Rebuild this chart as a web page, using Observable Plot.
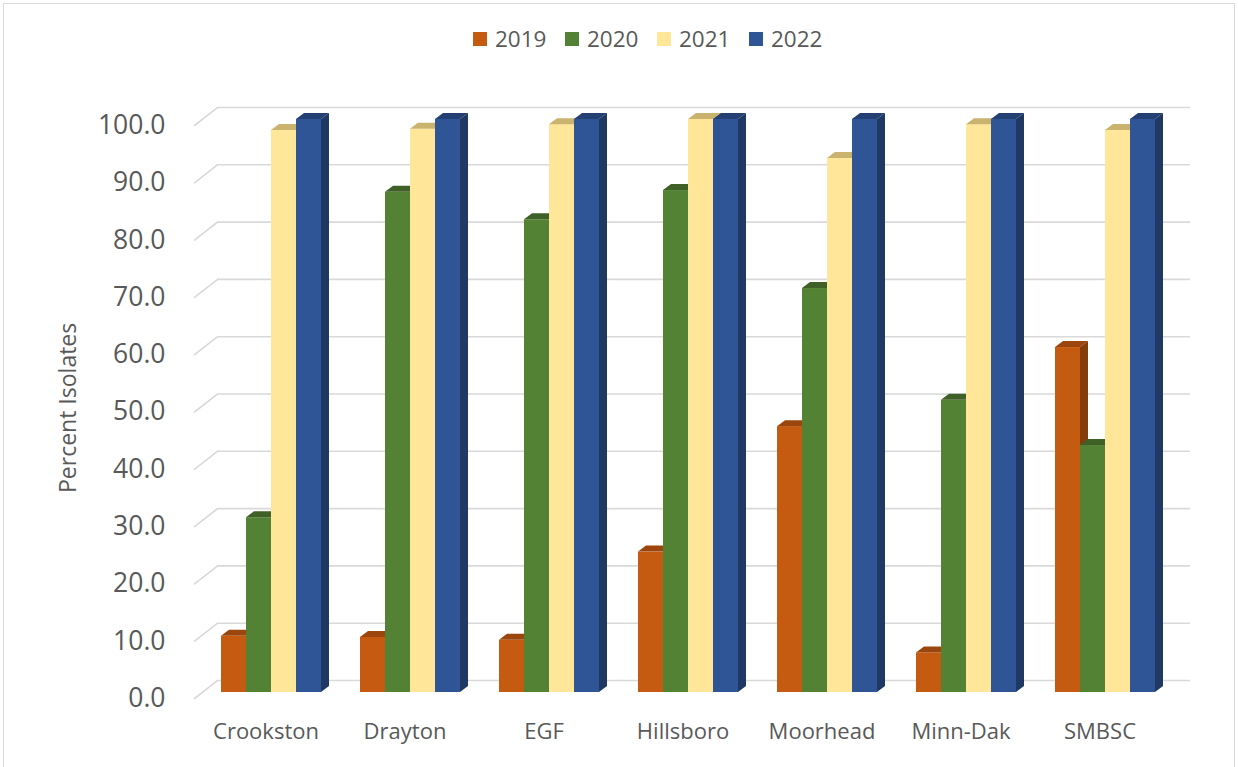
<!DOCTYPE html>
<html><head><meta charset="utf-8">
<script src="https://cdn.jsdelivr.net/npm/d3@7"></script>
<script src="https://cdn.jsdelivr.net/npm/@observablehq/plot@0.6"></script>
<style>
body{margin:0;background:#fff;font-family:'Open Sans',sans-serif;}
#wrap{position:relative;width:1238px;height:767px;overflow:hidden;background:#fff;}
#frame{position:absolute;left:3px;top:3px;width:1232px;height:820px;border:1px solid #d9d9d9;box-sizing:border-box;}
#legend{position:absolute;left:473px;top:24px;display:flex;}
.item{display:flex;align-items:center;width:92px;font-size:22.5px;line-height:30px;color:#595959;}
.sw{width:14px;height:14px;margin-right:8px;flex:none;}
#chart{position:absolute;left:0;top:72px;}
</style></head>
<body>
<div id="wrap">
  <div id="frame"></div>
  <div id="legend"></div>
  <div id="chart"></div>
</div>
<script>
const categories = ["Crookston", "Drayton", "EGF", "Hillsboro", "Moorhead", "Minn-Dak", "SMBSC"];
const years = ["2019", "2020", "2021", "2022"];
const v2019 = [9.8, 9.6, 9.1, 24.5, 46.4, 6.9, 60.2];
const v2020 = [30.5, 87.3, 82.5, 87.6, 70.5, 51.0, 43.1];
const v2021 = [98.1, 98.3, 99.1, 100.0, 93.2, 99.1, 98.1];
const v2022 = [100.0, 100.0, 100.0, 100.0, 100.0, 100.0, 100.0];
const yTicks = [0, 10, 20, 30, 40, 50, 60, 70, 80, 90, 100];
const frontColors = ["#c55a11", "#548235", "#ffe699", "#2f5597"];
const topColors = ["#9c460d", "#3f6128", "#c9b36e", "#243f72"];
const sideColors = ["#843c0c", "#375623", "#bfa85c", "#1f3864"];

const series = [v2019, v2020, v2021, v2022];
const data = [];
categories.forEach((c, i) => years.forEach((y, j) => data.push({cat: c, year: y, value: series[j][i]})));

const DX = 8, DY = 6;
const faceMap = {};
frontColors.forEach((c, i) => faceMap[c.toLowerCase()] = [topColors[i], sideColors[i]]);

function render3d(index, scales, values, dimensions, context, next) {
  const g = next(index, scales, values, dimensions, context);
  const ns = "http://www.w3.org/2000/svg";
  const rects = Array.from(g.querySelectorAll("rect"));
  for (const r of rects) {
    const x = +r.getAttribute("x"), y = +r.getAttribute("y");
    const w = +r.getAttribute("width"), h = +r.getAttribute("height");
    const f = (r.getAttribute("fill") || "").toLowerCase();
    const faces = faceMap[f] || ["#666", "#444"];
    const top = document.createElementNS(ns, "path");
    top.setAttribute("d", `M${x},${y}L${x + w},${y}L${x + w + DX},${y - DY}L${x + DX},${y - DY}Z`);
    top.setAttribute("fill", faces[0]);
    const side = document.createElementNS(ns, "path");
    side.setAttribute("d", `M${x + w},${y}L${x + w + DX},${y - DY}L${x + w + DX},${y + h - DY}L${x + w},${y + h}Z`);
    side.setAttribute("fill", faces[1]);
    r.after(top, side);
  }
  return g;
}

const chart = Plot.plot({
  width: 1238,
  height: 695,
  marginTop: 47,
  marginBottom: 75,
  marginLeft: 194,
  marginRight: 67,
  style: {fontFamily: "'Open Sans', sans-serif", background: "transparent"},
  fx: {domain: categories, padding: 0, axis: null},
  x: {domain: years, paddingInner: 0, paddingOuter: 0.76, align: 0.64, axis: null},
  y: {domain: [0, 100], axis: null},
  color: {domain: years, range: frontColors},
  marks: [
    Plot.ruleY(yTicks, {dx: 21, dy: -12, stroke: "#d9d9d9", strokeWidth: 1.6}),
    Plot.vector(yTicks, {
      y: d => d, frameAnchor: "left", facetAnchor: "left", dx: -2, dy: 6,
      length: 29, rotate: 52, anchor: "start", stroke: "#d9d9d9", strokeWidth: 1.6,
      shape: {draw(ctx, l) { ctx.moveTo(0, 0); ctx.lineTo(0, -l); }}
    }),
    Plot.barY(data, {fx: "cat", x: "year", y: "value", fill: "year", render: render3d}),
    Plot.axisY(yTicks, {tickSize: 0, tickPadding: 31, tickFormat: d => d.toFixed(1), fontSize: 26.5, dy: 6, fill: "#595959", label: null}),
    Plot.axisFx({anchor: "bottom", tickSize: 0, tickPadding: 31, fontSize: 22, fill: "#595959", label: null}),
    Plot.text(["Percent Isolates"], {frameAnchor: "left", facetAnchor: "left", dx: -128, dy: 87, rotate: -90, fontSize: 23, fill: "#595959"})
  ]
});
document.getElementById("chart").appendChild(chart);

const legend = document.getElementById("legend");
years.forEach((y, i) => {
  const item = document.createElement("div");
  item.className = "item";
  const sw = document.createElement("span");
  sw.className = "sw";
  sw.style.background = frontColors[i];
  const t = document.createElement("span");
  t.textContent = y;
  item.append(sw, t);
  legend.appendChild(item);
});
</script>
</body></html>
